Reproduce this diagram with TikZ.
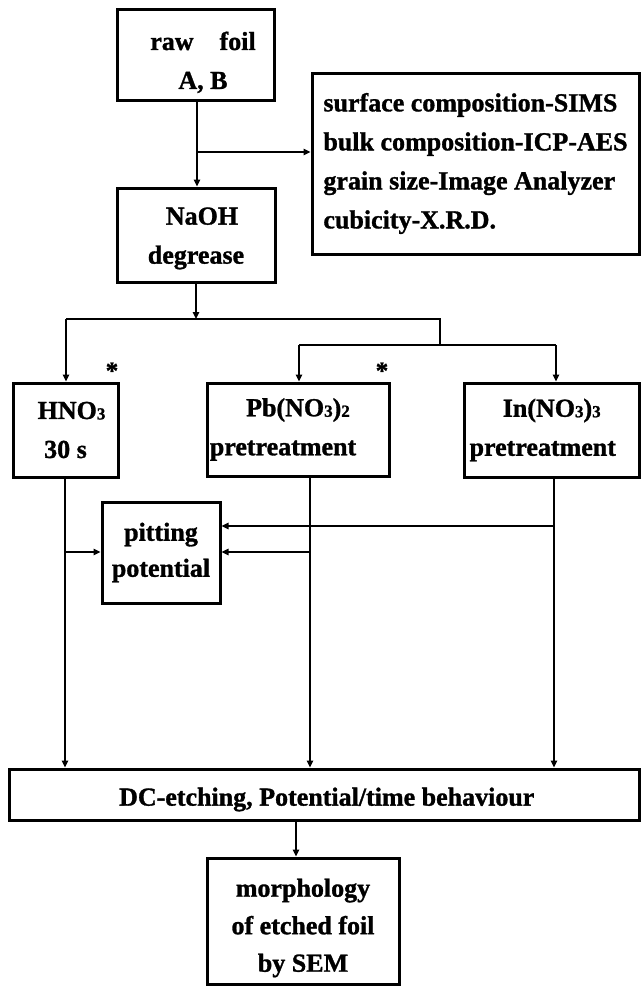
\documentclass[tikz,border=0pt]{standalone}
\usepackage{fontspec}
\setmainfont{Liberation Serif}[BoldFeatures={FakeBold=1.2}]
\usetikzlibrary{arrows.meta}
\newcommand{\dsub}[1]{\raisebox{-0.5pt}{\fontsize{17}{17}\selectfont #1}}
\begin{document}
\begin{tikzpicture}[x=1pt,y=-1pt,
  box/.style={draw,line width=3pt,rectangle,inner sep=0pt,align=center,
    font=\bfseries\fontsize{26}{39}\selectfont},
  conn/.style={line width=1.4pt},
  arr/.style={conn,-{Triangle[length=7pt,width=6.5pt]}},
  star/.style={font=\bfseries\fontsize{25}{25}\selectfont,inner sep=0pt,anchor=base}]
\useasboundingbox (0,0) rectangle (641,986);
\fill[white] (0,0) rectangle (641,986);

% boxes
\node[box,minimum width=157pt,minimum height=91pt] (raw) at (195.5,54.5)
  {\rule{0pt}{34pt}\hspace*{15pt}raw\hspace{26pt}foil\\\hspace*{15pt}A, B};
\node[box,minimum width=327pt,minimum height=181pt,align=left] (ana) at (475.5,163.5)
  {surface composition-SIMS\\bulk composition-ICP-AES\\grain size-Image Analyzer\\cubicity-X.R.D.};
\node[box,minimum width=158pt,minimum height=94pt] (naoh) at (196,235)
  {\rule{0pt}{24pt}\hspace*{12pt}NaOH\\degrease};
\node[box,minimum width=105pt,minimum height=94pt] (hno) at (65.5,430)
  {\hspace*{12pt}HNO\dsub{3}\\30 s};
\node[box,minimum width=182pt,minimum height=93pt] (pb) at (298,429.5)
  {Pb(NO\dsub{3})\dsub{2}\\\hspace*{-30pt}pretreatment};
\node[box,minimum width=175.5pt,minimum height=94pt] (inn) at (551.75,430)
  {In(NO\dsub{3})\dsub{3}\\\hspace*{-18pt}pretreatment};
\node[box,minimum width=118pt,minimum height=101pt,font=\bfseries\fontsize{26}{36}\selectfont] (pit) at (161,552.5)
  {pitting\\potential};
\node[box,minimum width=630.5pt,minimum height=51pt] (dc) at (324.25,794.5)
  {\rule{0pt}{28pt}\hspace*{5pt}DC-etching, Potential/time behaviour};
\node[box,minimum width=192pt,minimum height=126pt,font=\bfseries\fontsize{26}{37.5}\selectfont] (mor) at (303,921)
  {\rule{0pt}{32pt}morphology\\of etched foil\\by SEM};

% asterisks
\node[star] (s1) at (112,379) {*};
\node[star] (s2) at (382,379) {*};

% junction coordinates
\coordinate (j1) at (197,152);
\coordinate (j2) at (196,319);
\coordinate (bL) at (66,319);
\coordinate (bR) at (440,319);
\coordinate (c1) at (440,345);
\coordinate (c2L) at (299,345);
\coordinate (c2R) at (556,345);
\coordinate (vH) at (65,552);
\coordinate (vP) at (310,552);
\coordinate (vI) at (554,526);
\coordinate (m) at (296,840);

% connectors
\draw[conn] (raw.south -| j1) -- (j1);
\draw[arr] (j1) -- (naoh.north -| j1);
\draw[arr] (j1) -- (ana.west |- j1);
\draw[arr] (naoh.south -| j2) -- (j2);
\draw[conn] (bL) -- (bR) -- (c1);
\draw[arr] (bL) -- (hno.north -| bL);
\draw[conn] (c2L) -- (c2R);
\draw[arr] (c2L) -- (pb.north -| c2L);
\draw[arr] (c2R) -- (inn.north -| c2R);
\draw[arr] (hno.south -| vH) -- (dc.north -| vH);
\draw[arr] (pb.south -| vP) -- (dc.north -| vP);
\draw[arr] (inn.south -| vI) -- (dc.north -| vI);
\draw[arr] (vH) -- (pit.west |- vH);
\draw[arr] (vP) -- (pit.east |- vP);
\draw[arr] (vI) -- (pit.east |- vI);
\draw[arr] (dc.south -| m) -- (mor.north -| m);
\end{tikzpicture}
\end{document}
